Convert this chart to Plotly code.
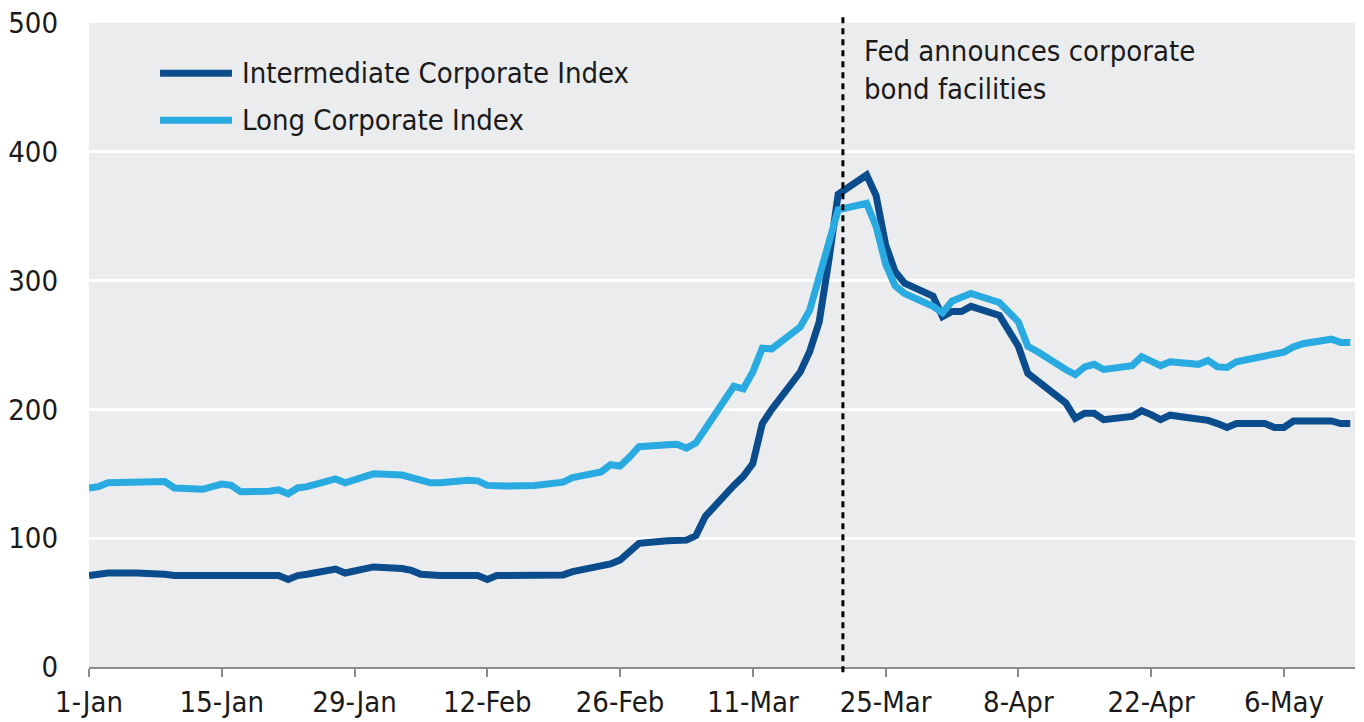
import pandas as pd
import plotly.graph_objects as go

# Business days plotted (categories)
dates = pd.bdate_range("2020-01-01", "2020-05-13").strftime("%Y-%m-%d").tolist()

intermediate = [
    # Jan
    71, 72, 73, 73, 73, 73, 72, 71, 71, 71, 71, 71, 71, 71, 71, 68, 71, 72, 76, 73, 74.5, 76, 77.7,
    # Feb
    76.5, 75, 72, 71, 71, 71, 71, 68, 71, 71, 71.5, 71.5, 71.5, 71.5, 74, 78, 80, 83, 89, 96,
    # Mar
    98, 98.5, 98.5, 102, 117, 141, 148, 158, 189, 200, 229, 245, 268, 315, 367, 382, 366, 328, 307, 298, 288, 272,
    # Apr
    276, 276, 280, 273, 260, 249, 228, 222, 205, 193, 197, 197, 192, 194.5, 199, 196, 192, 195.5, 193, 191.5, 189, 186,
    # May
    189, 189, 186, 186, 191, 191, 191, 189, 189,
]

long_corp = [
    # Jan
    139, 140, 143, 144, 144.5, 144.5, 144, 139, 138, 140, 142, 141, 136, 136.5, 137.5, 134.5, 139, 140, 146, 143, 145, 147.5, 150,
    # Feb
    149, 147.5, 145, 143, 143, 145, 144.5, 141, 140.5, 140.5, 141, 141.5, 142.5, 143.5, 147, 151.5, 157, 156, 163, 171,
    # Mar
    172.5, 173, 170, 174, 185, 218, 216, 229, 247.5, 247, 264, 277, 303, 329, 355, 360, 342, 313, 296, 290, 280, 275,
    # Apr
    284, 287, 290, 283, 276, 268, 249, 245, 231, 227, 233, 235, 231, 234, 241, 237, 234, 237, 235, 238, 233, 232.5,
    # May
    237, 241.5, 242.5, 244.5, 248.5, 251, 254.5, 252, 252,
]

tick_vals = ["2020-01-01", "2020-01-15", "2020-01-29", "2020-02-12", "2020-02-26",
             "2020-03-11", "2020-03-25", "2020-04-08", "2020-04-22", "2020-05-06"]
tick_text = ["1-Jan", "15-Jan", "29-Jan", "12-Feb", "26-Feb",
             "11-Mar", "25-Mar", "8-Apr", "22-Apr", "6-May"]

series_names = ["Intermediate Corporate Index", "Long Corporate Index"]
series_colors = ["#0B4C8C", "#29ABE2"]
event_date = "2020-03-20 12:00"
event_text = "Fed announces corporate<br>bond facilities"

FONT = "DejaVu Sans Condensed, Liberation Sans, sans-serif"
FS = 29

fig = go.Figure()
for name, vals, col in zip(series_names, [intermediate, long_corp], series_colors):
    fig.add_trace(go.Scatter(x=dates, y=vals, mode="lines", name=name,
                             line=dict(color=col, width=7), showlegend=False,
                             hoverinfo="skip"))

# Event line
fig.add_shape(type="line", x0=event_date, x1=event_date, xref="x", yref="paper",
              y0=-0.008, y1=1.012, line=dict(color="black", width=3, dash="6px,5px"))
fig.add_annotation(x=0.6106, y=0.927, xref="paper", yref="paper", text=event_text,
                   showarrow=False, xanchor="left", yanchor="middle", align="left",
                   font=dict(family=FONT, size=FS, color="#1a1a1a"))

# Manual legend
legend_y = [0.922, 0.849]
for name, col, ly in zip(series_names, series_colors, legend_y):
    fig.add_shape(type="line", xref="paper", yref="paper", x0=0.0561, x1=0.1129,
                  y0=ly, y1=ly, line=dict(color=col, width=7))
    fig.add_annotation(x=0.1193, y=ly, xref="paper", yref="paper", text=name,
                       showarrow=False, xanchor="left", yanchor="middle",
                       font=dict(family=FONT, size=FS, color="#1a1a1a"))

fig.update_layout(
    width=1364, height=722,
    margin=dict(l=89, r=9, t=23, b=55),
    paper_bgcolor="white", plot_bgcolor="#EBECEE",
    font=dict(family=FONT, size=FS, color="#1a1a1a"),
    showlegend=False,
)
fig.update_xaxes(type="date", range=["2020-01-01", "2020-05-13 12:00"],
                 tickvals=tick_vals, ticktext=tick_text, automargin=False,
                 showgrid=False, showline=True, linecolor="#8C8C8C", linewidth=2,
                 ticks="outside", ticklen=8, tickwidth=2, tickcolor="#8C8C8C",
                 zeroline=False, ticklabelstandoff=0)
fig.update_yaxes(range=[0, 500], dtick=100, showgrid=True, gridcolor="white",
                 gridwidth=3, zeroline=False, showline=False, ticks="",
                 ticklabelstandoff=30, automargin=False)

fig.write_html("out.html", config={"displayModeBar": False},
               post_script="document.body.style.margin='0';document.body.style.overflow='hidden';")
